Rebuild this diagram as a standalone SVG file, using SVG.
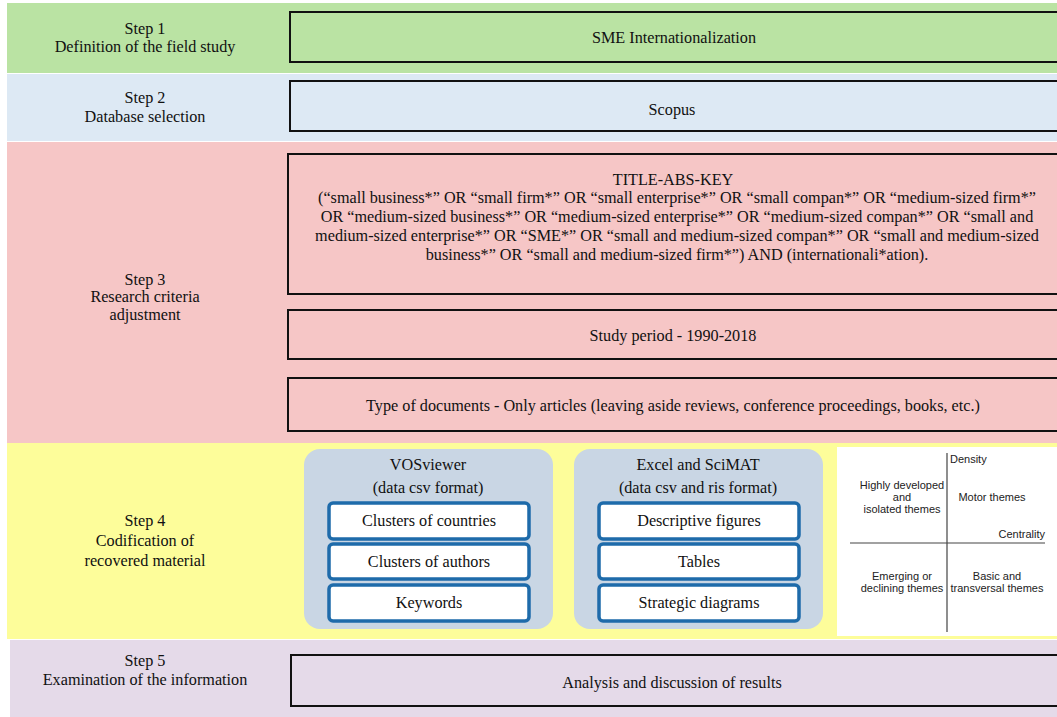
<svg xmlns="http://www.w3.org/2000/svg" width="1057" height="717" viewBox="0 0 1057 717">
<style>
.t{font-family:"Liberation Serif","Times New Roman",serif;font-size:16.2px;fill:#111;text-anchor:middle}
.s{font-family:"Liberation Sans",Arial,sans-serif;font-size:11px;fill:#222;text-anchor:middle}
.box{fill:none;stroke:#111;stroke-width:2}
.grp{fill:#C9D6E4}
.in{fill:#fff;stroke:#1E6BAA;stroke-width:3.5}
</style>
<rect x="0" y="0" width="1057" height="717" fill="#fff"/>
<g id="step1">
<rect x="7" y="3" width="1050" height="70" fill="#BAE3A3"/>
<text class="t" x="145" y="34">Step 1</text>
<text class="t" x="145" y="52">Definition of the field study</text>
<rect class="box" x="290" y="12" width="770" height="50"/>
<text class="t" x="674" y="43">SME Internationalization</text>
</g>
<g id="step2">
<rect x="7" y="74" width="1050" height="67" fill="#DDE9F4"/>
<text class="t" x="145" y="103">Step 2</text>
<text class="t" x="145" y="122">Database selection</text>
<rect class="box" x="290" y="81" width="770" height="50"/>
<text class="t" x="672" y="115">Scopus</text>
</g>
<g id="step3">
<rect x="7" y="142" width="1050" height="301" fill="#F6C6C6"/>
<text class="t" x="145" y="285">Step 3</text>
<text class="t" x="145" y="302">Research criteria</text>
<text class="t" x="145" y="320">adjustment</text>
<rect class="box" x="288" y="154" width="772" height="140"/>
<text class="t" x="673" y="185">TITLE-ABS-KEY</text>
<text class="t" x="677" y="203">(“small business*” OR “small firm*” OR “small enterprise*” OR “small compan*” OR “medium-sized firm*”</text>
<text class="t" x="677" y="222">OR “medium-sized business*” OR “medium-sized enterprise*” OR “medium-sized compan*” OR “small and</text>
<text class="t" x="677" y="241">medium-sized enterprise*” OR “SME*” OR “small and medium-sized compan*” OR “small and medium-sized</text>
<text class="t" x="677" y="260">business*” OR “small and medium-sized firm*”) AND (internationali*ation).</text>
<rect class="box" x="288" y="310" width="772" height="49"/>
<text class="t" x="673" y="341">Study period - 1990-2018</text>
<rect class="box" x="288" y="378" width="772" height="53"/>
<text class="t" x="673" y="411">Type of documents - Only articles (leaving aside reviews, conference proceedings, books, etc.)</text>
</g>
<g id="step4">
<rect x="7" y="443" width="1050" height="196" fill="#FDFD9A"/>
<text class="t" x="145" y="526">Step 4</text>
<text class="t" x="145" y="546">Codification of</text>
<text class="t" x="145" y="566">recovered material</text>
</g>
<g id="vosviewer">
<rect class="grp" x="304" y="449" width="249" height="180" rx="16"/>
<text class="t" x="428" y="470">VOSviewer</text>
<text class="t" x="428" y="493">(data csv format)</text>
<rect class="in" x="329" y="503" width="200" height="36" rx="4"/>
<text class="t" x="429" y="526">Clusters of countries</text>
<rect class="in" x="329" y="544" width="200" height="35" rx="4"/>
<text class="t" x="429" y="567">Clusters of authors</text>
<rect class="in" x="329" y="585" width="200" height="36" rx="4"/>
<text class="t" x="429" y="608">Keywords</text>
</g>
<g id="excel">
<rect class="grp" x="574" y="449" width="249" height="180" rx="16"/>
<text class="t" x="698" y="470">Excel and SciMAT</text>
<text class="t" x="698" y="493">(data csv and ris format)</text>
<rect class="in" x="599" y="503" width="200" height="36" rx="4"/>
<text class="t" x="699" y="526">Descriptive figures</text>
<rect class="in" x="599" y="544" width="200" height="35" rx="4"/>
<text class="t" x="699" y="567">Tables</text>
<rect class="in" x="599" y="585" width="200" height="36" rx="4"/>
<text class="t" x="699" y="608">Strategic diagrams</text>
</g>
<g id="strategic-diagram">
<rect x="837" y="447" width="220" height="189" fill="#fff"/>
<line x1="947" y1="453" x2="947" y2="632" stroke="#444" stroke-width="1.2"/>
<line x1="850" y1="543" x2="1045" y2="543" stroke="#444" stroke-width="1.2"/>
<text class="s" x="950" y="463" style="text-anchor:start">Density</text>
<text class="s" x="902" y="489">Highly developed</text>
<text class="s" x="902" y="501">and</text>
<text class="s" x="902" y="513">isolated themes</text>
<text class="s" x="992" y="501">Motor themes</text>
<text class="s" x="1045" y="538" style="text-anchor:end">Centrality</text>
<text class="s" x="902" y="580">Emerging or</text>
<text class="s" x="902" y="592">declining themes</text>
<text class="s" x="997" y="580">Basic and</text>
<text class="s" x="997" y="592">transversal themes</text>
</g>
<g id="step5">
<rect x="10" y="640" width="1047" height="77" fill="#E5DAE9"/>
<text class="t" x="145" y="666">Step 5</text>
<text class="t" x="145" y="685">Examination of the information</text>
<rect class="box" x="291" y="655" width="769" height="51"/>
<text class="t" x="672" y="688">Analysis and discussion of results</text>
</g>
<g id="connectors"></g>
</svg>
